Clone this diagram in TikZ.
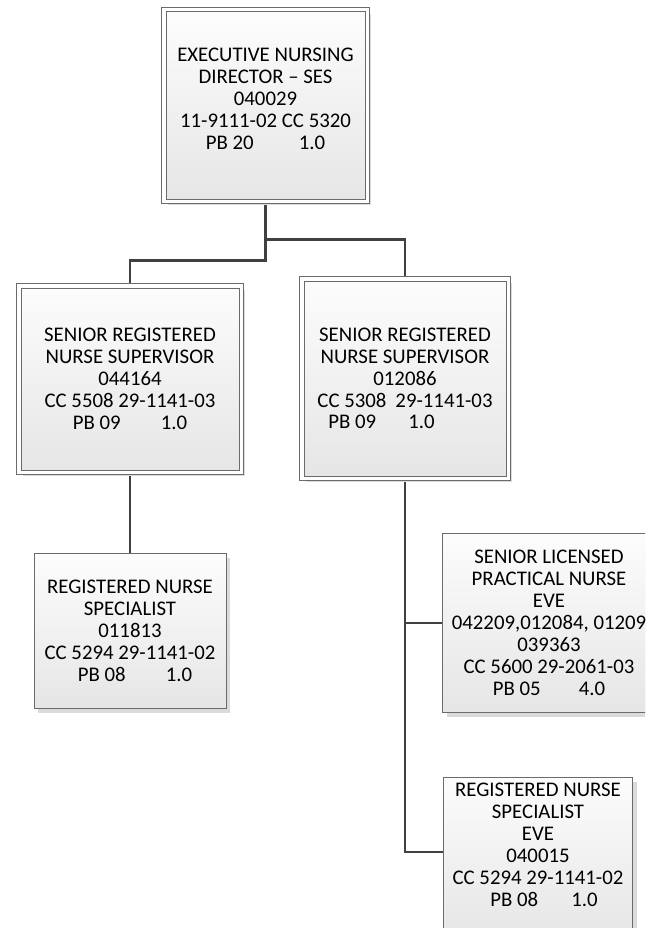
\documentclass[tikz,border=0pt]{standalone}
\usepackage{fontspec}
\setmainfont{Carlito}
\usetikzlibrary{shadows,calc,backgrounds}
\tikzset{
  box/.style={draw=black!58, line width=1pt, top color=black!1, bottom color=black!10,
    drop shadow={shadow xshift=4pt, shadow yshift=-4pt, fill=black!14, opacity=1},
    align=center, font=\fontsize{20.8}{21.9}\selectfont, inner sep=0pt},
  dbox/.style={box, double=white, double distance=3.5pt},
  txt/.style={align=center, font=\fontsize{20.8}{21.9}\selectfont, inner sep=0pt},
  conn/.style={draw=black!75, line width=2.8pt},
}
\begin{document}
\begin{tikzpicture}[x=1pt,y=-1pt]
\useasboundingbox (0,0) rectangle (645,928);
\clip (0,0) rectangle (645,928);
\node[dbox, minimum width=203.5, minimum height=191.5] (top) at (265.5,105.5)
  {EXECUTIVE NURSING\\DIRECTOR -- SES\\040029\\11-9111-02 CC 5320\\PB 20\hspace{45pt}1.0\\[-8pt]\mbox{}};
\node[dbox, minimum width=222.5, minimum height=186.5] (ls) at (130,379)
  {SENIOR REGISTERED\\NURSE SUPERVISOR\\044164\\CC 5508 29-1141-03\\PB 09\hspace{40pt}1.0};
\node[dbox, minimum width=206.5, minimum height=199.5] (rs) at (405,378.5)
  {SENIOR REGISTERED\\NURSE SUPERVISOR\\012086\\CC 5308\hspace{9pt}29-1141-03\\PB 09\hspace{32pt}1.0\hspace*{47pt}};
\node[box, minimum width=192, minimum height=155] (ll) at (130,631)
  {REGISTERED NURSE\\SPECIALIST\\011813\\CC 5294 29-1141-02\\\hspace*{10pt}PB 08\hspace{40pt}1.0};
\node[box, minimum width=213, minimum height=179] (r1) at (549,623)
  {SENIOR LICENSED\\PRACTICAL NURSE\\EVE\\042209,012084, 01209\\039363\\CC 5600 29-2061-03\\PB 05\hspace{38pt}4.0};
\node[box, minimum width=189, minimum height=162] (r2) at (538,858.5) {};
\node[txt, anchor=north] (r2t) at (538,783)
  {REGISTERED NURSE\\SPECIALIST\\EVE\\040015\\CC 5294 29-1141-02\\\hspace*{12pt}PB 08\hspace{33pt}1.0};
\begin{scope}[on background layer]
\draw[conn] (top.south) |- ($(ls.north)+(0,-25)$) -- (ls.north);
\draw[conn] (top.south) |- ($(rs.north)+(0,-39)$) -- (rs.north);
\draw[conn] (ls.south) -- (ll.north);
\draw[conn] (rs.south) |- (r1.west);
\draw[conn] (rs.south) |- ($(r2.north west)+(0,75)$);
\end{scope}
\end{tikzpicture}
\end{document}
